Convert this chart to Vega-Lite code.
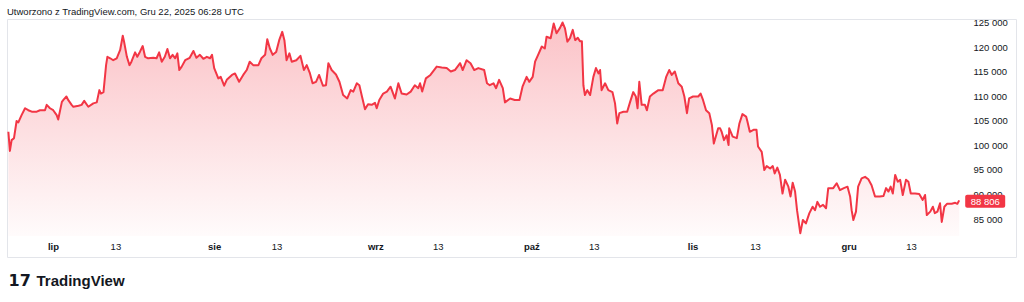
{
"$schema": "https://vega.github.io/schema/vega-lite/v6.json",
"width": 1009, "height": 238, "autosize": "none",
"padding": {"left": 7, "top": 19, "right": 8, "bottom": 45},
"background": "white",
"config": {
 "view": {"stroke": "#e3e5ea", "strokeWidth": 1},
 "locale": {"number": {"decimal": ",", "thousands": " ", "grouping": [3], "currency": ["", " zł"]}},
 "font": "Liberation Sans"
},
"title": {"text": "Utworzono z TradingView.com, Gru 22, 2025 06:28 UTC", "anchor": "start", "frame": "group", "offset": 4.5, "dy": 11.5, "baseline": "alphabetic", "font": "Liberation Sans", "fontSize": 9.5, "fontWeight": "normal", "color": "#131722"},
"data": {"values": [
{"t":"2025-06-22T10:00Z","p":102800},{"t":"2025-06-22T17:00Z","p":98900},{"t":"2025-06-23T01:00Z","p":101100},{"t":"2025-06-23T12:00Z","p":101500},{"t":"2025-06-24T00:00Z","p":105000},{"t":"2025-06-24T08:00Z","p":104700},{"t":"2025-06-24T23:00Z","p":106200},{"t":"2025-06-25T15:00Z","p":107600},{"t":"2025-06-26T06:00Z","p":107200},{"t":"2025-06-26T22:00Z","p":106900},{"t":"2025-06-27T21:00Z","p":106900},{"t":"2025-06-28T12:00Z","p":107200},{"t":"2025-06-29T11:00Z","p":107200},{"t":"2025-06-29T19:00Z","p":108300},{"t":"2025-06-30T10:00Z","p":107600},
{"t":"2025-07-01T01:00Z","p":107200},{"t":"2025-07-01T17:00Z","p":106200},{"t":"2025-07-02T00:00Z","p":105300},{"t":"2025-07-02T17:00Z","p":108900},{"t":"2025-07-03T00:00Z","p":109300},{"t":"2025-07-03T14:00Z","p":110000},{"t":"2025-07-03T22:00Z","p":109300},{"t":"2025-07-04T14:00Z","p":108300},{"t":"2025-07-04T22:00Z","p":107900},{"t":"2025-07-05T22:00Z","p":108100},{"t":"2025-07-06T12:00Z","p":108300},{"t":"2025-07-07T00:00Z","p":109100},{"t":"2025-07-07T19:00Z","p":107900},{"t":"2025-07-08T18:00Z","p":108600},{"t":"2025-07-09T10:00Z","p":108800},{"t":"2025-07-09T22:00Z","p":111300},{"t":"2025-07-10T05:00Z","p":110600},{"t":"2025-07-10T17:00Z","p":110900},{"t":"2025-07-11T05:00Z","p":116400},{"t":"2025-07-11T11:00Z","p":118100},{"t":"2025-07-12T00:00Z","p":117800},{"t":"2025-07-12T14:00Z","p":117400},{"t":"2025-07-13T06:00Z","p":117800},{"t":"2025-07-13T22:00Z","p":119500},{"t":"2025-07-14T10:00Z","p":122400},{"t":"2025-07-14T16:00Z","p":121200},{"t":"2025-07-15T05:00Z","p":118100},{"t":"2025-07-15T17:00Z","p":116400},{"t":"2025-07-16T02:00Z","p":117100},{"t":"2025-07-16T19:00Z","p":119000},{"t":"2025-07-17T05:00Z","p":118100},{"t":"2025-07-17T17:00Z","p":119100},{"t":"2025-07-18T06:00Z","p":120300},{"t":"2025-07-18T17:00Z","p":118100},{"t":"2025-07-19T07:00Z","p":117800},{"t":"2025-07-20T07:00Z","p":117900},{"t":"2025-07-20T22:00Z","p":117800},{"t":"2025-07-21T10:00Z","p":119000},{"t":"2025-07-21T22:00Z","p":117100},{"t":"2025-07-22T12:00Z","p":118100},{"t":"2025-07-23T00:00Z","p":119700},{"t":"2025-07-23T12:00Z","p":117800},{"t":"2025-07-24T00:00Z","p":118500},{"t":"2025-07-24T12:00Z","p":117800},{"t":"2025-07-24T22:00Z","p":118800},{"t":"2025-07-25T07:00Z","p":115400},{"t":"2025-07-25T18:00Z","p":116100},{"t":"2025-07-26T10:00Z","p":117400},{"t":"2025-07-27T07:00Z","p":117900},{"t":"2025-07-28T00:00Z","p":119300},{"t":"2025-07-28T14:00Z","p":117900},{"t":"2025-07-29T06:00Z","p":118500},{"t":"2025-07-29T22:00Z","p":117700},{"t":"2025-07-30T14:00Z","p":118100},{"t":"2025-07-31T05:00Z","p":117800},{"t":"2025-07-31T14:00Z","p":118500},
{"t":"2025-08-01T00:00Z","p":115800},{"t":"2025-08-01T19:00Z","p":113700},{"t":"2025-08-02T06:00Z","p":114000},{"t":"2025-08-02T22:00Z","p":112200},{"t":"2025-08-03T10:00Z","p":113400},{"t":"2025-08-04T10:00Z","p":114400},{"t":"2025-08-05T00:00Z","p":114700},{"t":"2025-08-05T19:00Z","p":113000},{"t":"2025-08-06T14:00Z","p":114400},{"t":"2025-08-07T06:00Z","p":115400},{"t":"2025-08-07T20:00Z","p":117100},{"t":"2025-08-08T12:00Z","p":116400},{"t":"2025-08-09T12:00Z","p":116400},{"t":"2025-08-10T02:00Z","p":117800},{"t":"2025-08-10T19:00Z","p":118500},{"t":"2025-08-11T05:00Z","p":121700},{"t":"2025-08-11T17:00Z","p":119800},{"t":"2025-08-12T06:00Z","p":118500},{"t":"2025-08-12T22:00Z","p":119100},{"t":"2025-08-13T12:00Z","p":121500},{"t":"2025-08-14T02:00Z","p":123200},{"t":"2025-08-14T12:00Z","p":121500},{"t":"2025-08-14T22:00Z","p":117400},{"t":"2025-08-15T11:00Z","p":118800},{"t":"2025-08-15T22:00Z","p":117100},{"t":"2025-08-16T19:00Z","p":117400},{"t":"2025-08-17T14:00Z","p":118300},{"t":"2025-08-18T06:00Z","p":115400},{"t":"2025-08-18T19:00Z","p":116400},{"t":"2025-08-19T10:00Z","p":114700},{"t":"2025-08-19T22:00Z","p":112700},{"t":"2025-08-20T14:00Z","p":113000},{"t":"2025-08-21T04:00Z","p":114400},{"t":"2025-08-21T22:00Z","p":112200},{"t":"2025-08-22T12:00Z","p":112300},{"t":"2025-08-22T23:00Z","p":116800},{"t":"2025-08-23T14:00Z","p":115400},{"t":"2025-08-24T10:00Z","p":114500},{"t":"2025-08-25T02:00Z","p":113000},{"t":"2025-08-25T19:00Z","p":110300},{"t":"2025-08-26T14:00Z","p":109600},{"t":"2025-08-27T06:00Z","p":111300},{"t":"2025-08-27T18:00Z","p":111000},{"t":"2025-08-28T10:00Z","p":112700},{"t":"2025-08-28T22:00Z","p":112300},{"t":"2025-08-29T10:00Z","p":110000},{"t":"2025-08-30T00:00Z","p":107400},{"t":"2025-08-30T14:00Z","p":108400},{"t":"2025-08-31T07:00Z","p":108300},{"t":"2025-08-31T22:00Z","p":108700},
{"t":"2025-09-01T06:00Z","p":107600},{"t":"2025-09-01T18:00Z","p":109300},{"t":"2025-09-02T12:00Z","p":110600},{"t":"2025-09-03T05:00Z","p":111000},{"t":"2025-09-03T22:00Z","p":112000},{"t":"2025-09-04T18:00Z","p":109600},{"t":"2025-09-05T10:00Z","p":112700},{"t":"2025-09-06T01:00Z","p":110600},{"t":"2025-09-07T00:00Z","p":110400},{"t":"2025-09-07T19:00Z","p":111000},{"t":"2025-09-08T14:00Z","p":112300},{"t":"2025-09-09T06:00Z","p":111700},{"t":"2025-09-09T14:00Z","p":112700},{"t":"2025-09-10T00:00Z","p":111000},{"t":"2025-09-10T17:00Z","p":113700},{"t":"2025-09-11T14:00Z","p":114400},{"t":"2025-09-12T19:00Z","p":116100},{"t":"2025-09-13T18:00Z","p":115900},{"t":"2025-09-14T17:00Z","p":115800},{"t":"2025-09-15T12:00Z","p":115100},{"t":"2025-09-16T07:00Z","p":115400},{"t":"2025-09-17T07:00Z","p":116800},{"t":"2025-09-17T19:00Z","p":115400},{"t":"2025-09-18T13:00Z","p":117400},{"t":"2025-09-19T07:00Z","p":116800},{"t":"2025-09-20T00:00Z","p":115400},{"t":"2025-09-20T19:00Z","p":115800},{"t":"2025-09-21T22:00Z","p":115400},{"t":"2025-09-22T11:00Z","p":112700},{"t":"2025-09-23T00:00Z","p":112300},{"t":"2025-09-23T17:00Z","p":112700},{"t":"2025-09-24T05:00Z","p":111700},{"t":"2025-09-24T19:00Z","p":113400},{"t":"2025-09-25T12:00Z","p":111700},{"t":"2025-09-25T22:00Z","p":108800},{"t":"2025-09-26T22:00Z","p":109600},{"t":"2025-09-27T19:00Z","p":109300},{"t":"2025-09-28T17:00Z","p":109300},{"t":"2025-09-29T07:00Z","p":112000},{"t":"2025-09-30T02:00Z","p":114000},{"t":"2025-09-30T14:00Z","p":113000},
{"t":"2025-10-01T06:00Z","p":114000},{"t":"2025-10-01T17:00Z","p":117100},{"t":"2025-10-02T07:00Z","p":118500},{"t":"2025-10-03T00:00Z","p":120200},{"t":"2025-10-03T14:00Z","p":119800},{"t":"2025-10-03T22:00Z","p":122200},{"t":"2025-10-04T17:00Z","p":121900},{"t":"2025-10-05T07:00Z","p":124900},{"t":"2025-10-05T20:00Z","p":122900},{"t":"2025-10-06T12:00Z","p":124000},{"t":"2025-10-07T00:00Z","p":125100},{"t":"2025-10-07T11:00Z","p":123900},{"t":"2025-10-07T22:00Z","p":121200},{"t":"2025-10-08T10:00Z","p":121900},{"t":"2025-10-08T23:00Z","p":123600},{"t":"2025-10-09T10:00Z","p":121500},{"t":"2025-10-09T22:00Z","p":122000},{"t":"2025-10-10T08:00Z","p":121300},{"t":"2025-10-10T17:00Z","p":121300},{"t":"2025-10-11T00:00Z","p":112300},{"t":"2025-10-11T07:00Z","p":110300},{"t":"2025-10-11T18:00Z","p":111300},{"t":"2025-10-12T07:00Z","p":110300},{"t":"2025-10-12T22:00Z","p":114000},{"t":"2025-10-13T10:00Z","p":115800},{"t":"2025-10-13T22:00Z","p":114700},{"t":"2025-10-14T05:00Z","p":115400},{"t":"2025-10-14T12:00Z","p":111300},{"t":"2025-10-15T04:00Z","p":112700},{"t":"2025-10-15T19:00Z","p":111300},{"t":"2025-10-16T14:00Z","p":110900},{"t":"2025-10-17T02:00Z","p":108600},{"t":"2025-10-17T12:00Z","p":104500},{"t":"2025-10-17T22:00Z","p":106600},{"t":"2025-10-18T17:00Z","p":106900},{"t":"2025-10-19T10:00Z","p":106900},{"t":"2025-10-19T23:00Z","p":108800},{"t":"2025-10-20T14:00Z","p":110900},{"t":"2025-10-21T02:00Z","p":110000},{"t":"2025-10-21T10:00Z","p":107600},{"t":"2025-10-21T18:00Z","p":113000},{"t":"2025-10-22T05:00Z","p":108300},{"t":"2025-10-22T20:00Z","p":108300},{"t":"2025-10-23T05:00Z","p":107200},{"t":"2025-10-23T19:00Z","p":110000},{"t":"2025-10-24T11:00Z","p":110600},{"t":"2025-10-25T10:00Z","p":111300},{"t":"2025-10-26T06:00Z","p":111300},{"t":"2025-10-26T22:00Z","p":114000},{"t":"2025-10-27T12:00Z","p":115400},{"t":"2025-10-28T00:00Z","p":114400},{"t":"2025-10-28T14:00Z","p":115100},{"t":"2025-10-29T06:00Z","p":112700},{"t":"2025-10-29T22:00Z","p":112000},{"t":"2025-10-30T10:00Z","p":110000},{"t":"2025-10-30T22:00Z","p":106600},{"t":"2025-10-31T08:00Z","p":109600},
{"t":"2025-11-01T02:00Z","p":110000},{"t":"2025-11-02T02:00Z","p":110000},{"t":"2025-11-02T13:00Z","p":110600},{"t":"2025-11-03T00:00Z","p":109300},{"t":"2025-11-03T14:00Z","p":107200},{"t":"2025-11-04T05:00Z","p":106600},{"t":"2025-11-04T17:00Z","p":104200},{"t":"2025-11-05T02:00Z","p":100400},{"t":"2025-11-05T22:00Z","p":103500},{"t":"2025-11-06T07:00Z","p":103500},{"t":"2025-11-06T14:00Z","p":102800},{"t":"2025-11-07T01:00Z","p":101100},{"t":"2025-11-07T13:00Z","p":102100},{"t":"2025-11-07T22:00Z","p":100100},{"t":"2025-11-08T01:00Z","p":103500},{"t":"2025-11-08T17:00Z","p":101800},{"t":"2025-11-09T12:00Z","p":101500},{"t":"2025-11-10T00:00Z","p":104500},{"t":"2025-11-10T14:00Z","p":106400},{"t":"2025-11-11T07:00Z","p":105900},{"t":"2025-11-11T13:00Z","p":104900},{"t":"2025-11-12T00:00Z","p":102800},{"t":"2025-11-12T17:00Z","p":103200},{"t":"2025-11-13T07:00Z","p":103200},{"t":"2025-11-13T14:00Z","p":99800},{"t":"2025-11-14T07:00Z","p":98700},{"t":"2025-11-14T19:00Z","p":95000},{"t":"2025-11-15T06:00Z","p":95800},{"t":"2025-11-15T22:00Z","p":95300},{"t":"2025-11-16T10:00Z","p":95800},{"t":"2025-11-16T19:00Z","p":94300},{"t":"2025-11-17T07:00Z","p":95500},{"t":"2025-11-17T19:00Z","p":94000},{"t":"2025-11-18T07:00Z","p":90200},{"t":"2025-11-18T19:00Z","p":93000},{"t":"2025-11-19T10:00Z","p":91600},{"t":"2025-11-19T20:00Z","p":89600},{"t":"2025-11-20T06:00Z","p":92400},{"t":"2025-11-20T17:00Z","p":90600},{"t":"2025-11-21T02:00Z","p":86800},{"t":"2025-11-21T17:00Z","p":82100},{"t":"2025-11-22T05:00Z","p":84800},{"t":"2025-11-22T19:00Z","p":84100},{"t":"2025-11-23T11:00Z","p":86200},{"t":"2025-11-24T02:00Z","p":87500},{"t":"2025-11-24T13:00Z","p":86800},{"t":"2025-11-25T00:00Z","p":88500},{"t":"2025-11-25T12:00Z","p":87500},{"t":"2025-11-26T02:00Z","p":87900},{"t":"2025-11-26T16:00Z","p":87200},{"t":"2025-11-27T02:00Z","p":91300},{"t":"2025-11-28T01:00Z","p":91300},{"t":"2025-11-28T17:00Z","p":92300},{"t":"2025-11-29T08:00Z","p":90900},{"t":"2025-11-30T02:00Z","p":91300},{"t":"2025-11-30T19:00Z","p":91600},
{"t":"2025-12-01T07:00Z","p":89600},{"t":"2025-12-01T14:00Z","p":86800},{"t":"2025-12-01T22:00Z","p":84800},{"t":"2025-12-02T10:00Z","p":86500},{"t":"2025-12-02T20:00Z","p":91600},{"t":"2025-12-03T12:00Z","p":93300},{"t":"2025-12-04T04:00Z","p":93600},{"t":"2025-12-04T19:00Z","p":93100},{"t":"2025-12-05T10:00Z","p":91900},{"t":"2025-12-06T02:00Z","p":89600},{"t":"2025-12-07T00:00Z","p":89600},{"t":"2025-12-07T17:00Z","p":89700},{"t":"2025-12-08T05:00Z","p":91300},{"t":"2025-12-08T16:00Z","p":90600},{"t":"2025-12-09T02:00Z","p":91600},{"t":"2025-12-09T12:00Z","p":90200},{"t":"2025-12-09T23:00Z","p":94000},{"t":"2025-12-10T11:00Z","p":92600},{"t":"2025-12-10T22:00Z","p":93000},{"t":"2025-12-11T10:00Z","p":89900},{"t":"2025-12-12T01:00Z","p":93000},{"t":"2025-12-12T12:00Z","p":92600},{"t":"2025-12-12T23:00Z","p":90200},{"t":"2025-12-13T19:00Z","p":90200},{"t":"2025-12-14T14:00Z","p":90100},{"t":"2025-12-15T06:00Z","p":88900},{"t":"2025-12-15T17:00Z","p":89900},{"t":"2025-12-16T01:00Z","p":85800},{"t":"2025-12-16T17:00Z","p":86500},{"t":"2025-12-17T05:00Z","p":87500},{"t":"2025-12-17T14:00Z","p":86200},{"t":"2025-12-18T02:00Z","p":86500},{"t":"2025-12-18T14:00Z","p":88200},{"t":"2025-12-18T22:00Z","p":84400},{"t":"2025-12-19T10:00Z","p":87500},{"t":"2025-12-19T22:00Z","p":88100},{"t":"2025-12-20T20:00Z","p":88100},{"t":"2025-12-21T12:00Z","p":88300},{"t":"2025-12-21T22:00Z","p":88100},{"t":"2025-12-22T06:28Z","p":88806}
]},
"encoding": {
 "x": {"field": "t", "type": "temporal",
  "scale": {"type": "utc", "domain": ["2025-06-22T03:42:00Z", "2026-01-02T04:37:00Z"]},
  "axis": {"orient": "bottom", "offset": -16, "domain": false, "ticks": false, "tickSize": 0, "grid": false, "labelPadding": 0, "labelOverlap": false, "labelFlush": false,
   "values": [{"year":2025,"month":7,"date":1,"utc":true},{"year":2025,"month":7,"date":13,"utc":true},{"year":2025,"month":8,"date":1,"utc":true},{"year":2025,"month":8,"date":13,"utc":true},{"year":2025,"month":9,"date":1,"utc":true},{"year":2025,"month":9,"date":13,"utc":true},{"year":2025,"month":10,"date":1,"utc":true},{"year":2025,"month":10,"date":13,"utc":true},{"year":2025,"month":11,"date":1,"utc":true},{"year":2025,"month":11,"date":13,"utc":true},{"year":2025,"month":12,"date":1,"utc":true},{"year":2025,"month":12,"date":13,"utc":true}],
   "labelExpr": "utcdate(datum.value) == 1 ? ['sty','lut','mar','kwi','maj','cze','lip','sie','wrz','paź','lis','gru'][utcmonth(datum.value)] : '' + utcdate(datum.value)",
   "labelFontWeight": {"condition": {"test": "utcdate(datum.value) == 1", "value": "bold"}, "value": "normal"},
   "labelFont": "Liberation Sans", "labelFontSize": 9.5, "labelColor": "#131722",
   "title": "TradingView", "titleX": 29, "titleY": 44, "titleAlign": "left", "titleAnchor": "start", "titleBaseline": "alphabetic", "titleFont": "Liberation Sans", "titleFontSize": 15, "titleFontWeight": "bold", "titleColor": "#131722"}},
 "y": {"field": "p", "type": "quantitative",
  "scale": {"domain": [77245, 125816], "nice": false, "zero": false},
  "axis": {"orient": "right", "offset": -43, "domain": false, "ticks": false, "tickSize": 0, "grid": false, "labelPadding": 0, "labelFlush": false, "labelOverlap": false,
   "values": [85000, 90000, 95000, 100000, 105000, 110000, 115000, 120000, 125000], "format": ",d",
   "labelFont": "Liberation Sans", "labelFontSize": 9.5, "labelColor": "#131722",
   "title": "17", "titleX": -965, "titleY": 266, "titleAngle": 0, "titleAlign": "left", "titleBaseline": "alphabetic", "titleFont": "DejaVu Sans", "titleFontSize": 16, "titleFontWeight": 900, "titleColor": "#131722"}}
},
"layer": [
 {"mark": {"type": "area", "line": false, "fill": {"gradient": "linear", "x1": 0, "y1": 0, "x2": 0, "y2": 1, "stops": [{"offset": 0, "color": "rgba(242,54,69,0.30)"}, {"offset": 1, "color": "rgba(242,54,69,0.02)"}]}},
  "encoding": {"y2": {"datum": 81531}}},
 {"mark": {"type": "line", "color": "#F23645", "strokeWidth": 2, "strokeJoin": "round"}},
 {"transform": [{"filter": "datum.p == 88806"}],
  "mark": {"type": "rect", "width": 40, "height": 13, "color": "#F23645", "xOffset": 26, "yOffset": 1, "cornerRadius": 2}},
 {"transform": [{"filter": "datum.p == 88806"}],
  "mark": {"type": "text", "color": "white", "font": "Liberation Sans", "fontSize": 9.5, "align": "center", "baseline": "middle", "xOffset": 26, "yOffset": 1.5},
  "encoding": {"text": {"field": "p", "type": "quantitative", "format": ",d"}}}
]
}
